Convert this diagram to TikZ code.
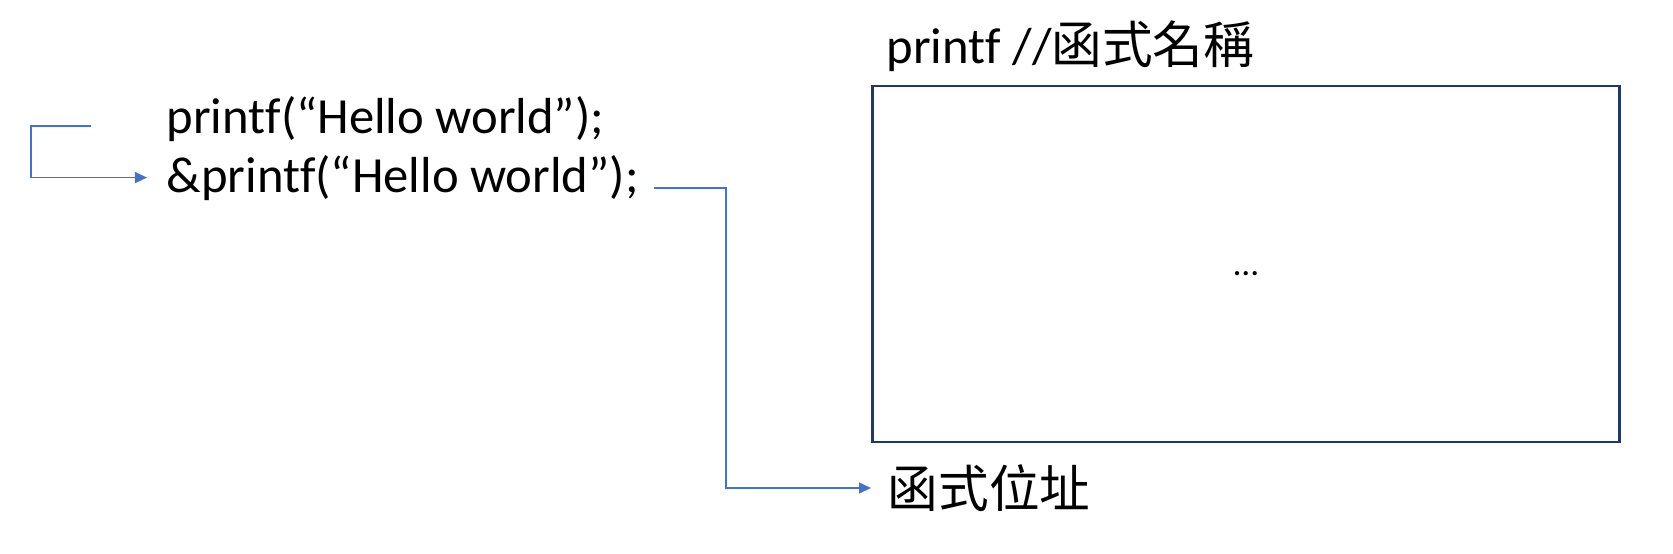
\documentclass[tikz,border=0pt]{standalone}
\usepackage{fontspec}
\setmainfont{Carlito}[Ligatures=NoCommon]
\newfontfamily\cjk{Noto Sans CJK TC}
\usepackage{tikz}
\usetikzlibrary{arrows.meta,positioning}

\definecolor{linkblue}{HTML}{4472C4}
\definecolor{boxnavy}{HTML}{1F3864}

\begin{document}
\begin{tikzpicture}[x=0.01cm, y=-0.01cm,
        txt/.style={font=\fontsize{14.4pt}{17pt}\selectfont, inner sep=0pt},
        link/.style={linkblue, line width=0.4pt},
        tip/.style={-{Triangle[length=0.12cm, width=0.11cm]}}]
        \useasboundingbox (0,0) rectangle (1673,553);

        % Function body
        \node[draw=boxnavy, line width=0.75pt, minimum width=7.46cm, minimum height=3.56cm] (body) at (1246,264) {};
        \node[font=\fontsize{10pt}{12pt}\selectfont] (dots) at ([yshift=-0.1cm]body.center) {…};
        \node[txt, anchor=base west] (name) at (886,63) {printf //{\cjk 函式名稱}};

        % Code lines
        \node[txt, anchor=base west] (call) at (166,133) {printf(“Hello world”);};
        \node[txt, anchor=base west] (addr) at (166,192) {\&printf(“Hello world”);};

        % Address label
        \node[txt, anchor=west, inner xsep=0.16cm] (addrtext) at (871,488) {\cjk 函式位址};

        % Loop arrow
        \coordinate (loop) at (91,126);
        \draw[link, tip] (loop) -- ++(-60,0) |- ([xshift=-0.19cm]addr.west);

        % Address arrow
        \coordinate (out) at (654,188);
        \draw[link, tip] (out) -- ++(72,0) |- (addrtext.west);
    \end{tikzpicture}
\end{document}
